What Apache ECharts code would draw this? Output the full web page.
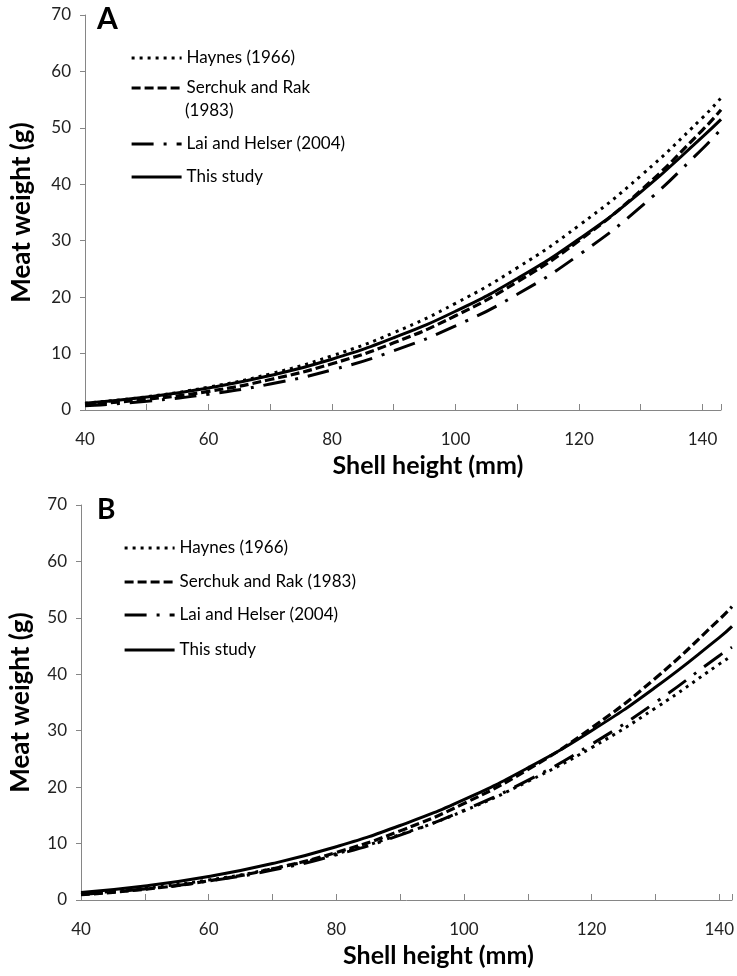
<!DOCTYPE html>
<html>
<head>
<meta charset="utf-8">
<script src="https://cdn.jsdelivr.net/npm/echarts@6/dist/echarts.min.js"></script>
<style>
  html, body { margin: 0; padding: 0; background: #fff; }
  #chart { width: 737px; height: 976px; }
</style>
</head>
<body>
<div id="chart"></div>
<script>
// shell height (mm) sampled along each curve
const shellA = [40, 50, 60, 70, 80, 90, 100, 110, 120, 130, 140, 143]
const shellB = [40, 50, 60, 70, 80, 90, 100, 110, 120, 130, 140, 142]

// panel A meat weight (g)
const haynesA  = [1.2, 2.35, 4.05, 6.4, 9.6, 13.7, 18.9, 25.2, 32.7, 41.5, 51.8, 55.3]
const serchukA = [0.95, 1.9, 3.3, 5.4, 8.2, 11.9, 16.7, 22.7, 30.0, 38.9, 49.6, 53.2]
const laiA     = [0.75, 1.55, 2.8, 4.6, 7.1, 10.5, 14.9, 20.5, 27.5, 36.0, 46.3, 49.8]
const studyA   = [1.2, 2.3, 3.9, 6.1, 9.0, 12.8, 17.5, 23.3, 30.3, 38.6, 48.4, 51.5]

// panel B meat weight (g)
const haynesB  = [1.1, 2.1, 3.55, 5.55, 8.2, 11.6, 15.8, 21.0, 27.0, 34.0, 41.8, 43.3]
const serchukB = [0.94, 1.9, 3.39, 5.52, 8.43, 12.25, 17.1, 23.1, 30.5, 39.3, 49.7, 52.0]
const laiB     = [1.0, 1.95, 3.35, 5.3, 8.0, 11.5, 15.9, 21.2, 27.6, 35.0, 43.3, 44.8]
const studyB   = [1.31, 2.47, 4.16, 6.46, 9.44, 13.2, 17.8, 23.4, 30.0, 37.7, 46.5, 48.5]

const names = ['Haynes (1966)', 'Serchuk and Rak (1983)', 'Lai and Helser (2004)', 'This study']
const nameA = ['Haynes (1966)', 'Serchuk and Rak', 'Lai and Helser (2004)', 'This study']

const font = 'Lato, "Open Sans", sans-serif'
const axisGray = '#868686'

const styles = [
  { type: [3, 5], width: 3 },
  { type: [9, 4], width: 3.2 },
  { type: [22, 10, 3, 10], width: 3 },
  { type: 'solid', width: 3 },
]

const pairs = (xs, ys) => xs.map((x, i) => [x, ys[i]])

const xAxisFor = (gridIndex, max, padLeft) => ({
  type: 'value',
  gridIndex,
  min: 40,
  max,
  interval: 10,
  name: 'Shell height (mm)',
  nameLocation: 'middle',
  nameGap: 43,
  nameTextStyle: { fontFamily: font, fontSize: 25, fontWeight: 'bold', color: '#000', padding: [0, 0, 0, padLeft] },
  axisLine: { lineStyle: { color: axisGray, width: 1 } },
  axisTick: { inside: true, length: 6, lineStyle: { color: axisGray } },
  axisLabel: {
    margin: 21,
    fontFamily: font,
    fontSize: 17,
    color: '#222',
    formatter: (v) => (v % 20 === 0 ? String(v) : ''),
  },
  splitLine: { show: false },
})

const yAxisFor = (gridIndex, nameGap) => ({
  type: 'value',
  gridIndex,
  min: 0,
  max: 70,
  interval: 10,
  name: 'Meat weight (g)',
  nameLocation: 'middle',
  nameGap,
  nameTextStyle: { fontFamily: font, fontSize: 26, fontWeight: 'bold', color: '#000' },
  axisLine: { show: true, lineStyle: { color: axisGray, width: 1 } },
  axisTick: { show: true, length: 5, lineStyle: { color: axisGray } },
  axisLabel: { margin: 14, fontFamily: font, fontSize: 17, color: '#222' },
  splitLine: { show: false },
})

const makeSeries = (idx, name, xs, ys, s) => ({
  type: 'line',
  name,
  xAxisIndex: idx,
  yAxisIndex: idx,
  data: pairs(xs, ys),
  smooth: true,
  showSymbol: false,
  symbol: 'none',
  lineStyle: { color: '#000', width: s.width, type: s.type },
  itemStyle: { color: '#000' },
  animation: false,
})

const seriesA = [haynesA, serchukA, laiA, studyA].map((ys, i) => makeSeries(0, nameA[i], shellA, ys, styles[i]))
const seriesB = [haynesB, serchukB, laiB, studyB].map((ys, i) => makeSeries(1, names[i], shellB, ys, styles[i]))

// one legend per entry so each can sit at its own height
const legendItem = (name, left, top) => ({
  data: [name],
  left,
  top,
  orient: 'vertical',
  itemWidth: 50,
  itemHeight: 14,
  itemGap: 6,
  padding: 0,
  selectedMode: false,
  itemStyle: { opacity: 0 },
  lineStyle: { width: 3.2 },
  textStyle: { fontFamily: font, fontSize: 17, color: '#000', lineHeight: 18 },
})

const topsA = [49, 79, 135, 168]
const topsB = [539, 573, 606, 641]

const chart = echarts.init(document.getElementById('chart'), null, { renderer: 'canvas' })
chart.setOption({
  backgroundColor: '#fff',
  animation: false,
  grid: [
    { left: 85, top: 15, width: 636, height: 395 },
    { left: 80, top: 505, width: 658, height: 395 },
  ],
  xAxis: [xAxisFor(0, 143, 50), xAxisFor(1, 142, 64)],
  yAxis: [yAxisFor(0, 50), yAxisFor(1, 47)],
  legend: [
    ...nameA.map((n, i) => legendItem(n, 130, topsA[i])),
    ...names.map((n, i) => legendItem(n, 123, topsB[i])),
  ],
  graphic: [
    { type: 'text', left: 97, top: 4, style: { text: 'A', font: 'bold 30px ' + font, fill: '#000' } },
    { type: 'text', left: 97, top: 496, style: { text: 'B', font: 'bold 28px ' + font, fill: '#000' } },
    { type: 'text', left: 185, top: 102, style: { text: '(1983)', font: '17px ' + font, fill: '#000' } },
  ],
  series: [...seriesA, ...seriesB],
})
</script>
</body>
</html>
